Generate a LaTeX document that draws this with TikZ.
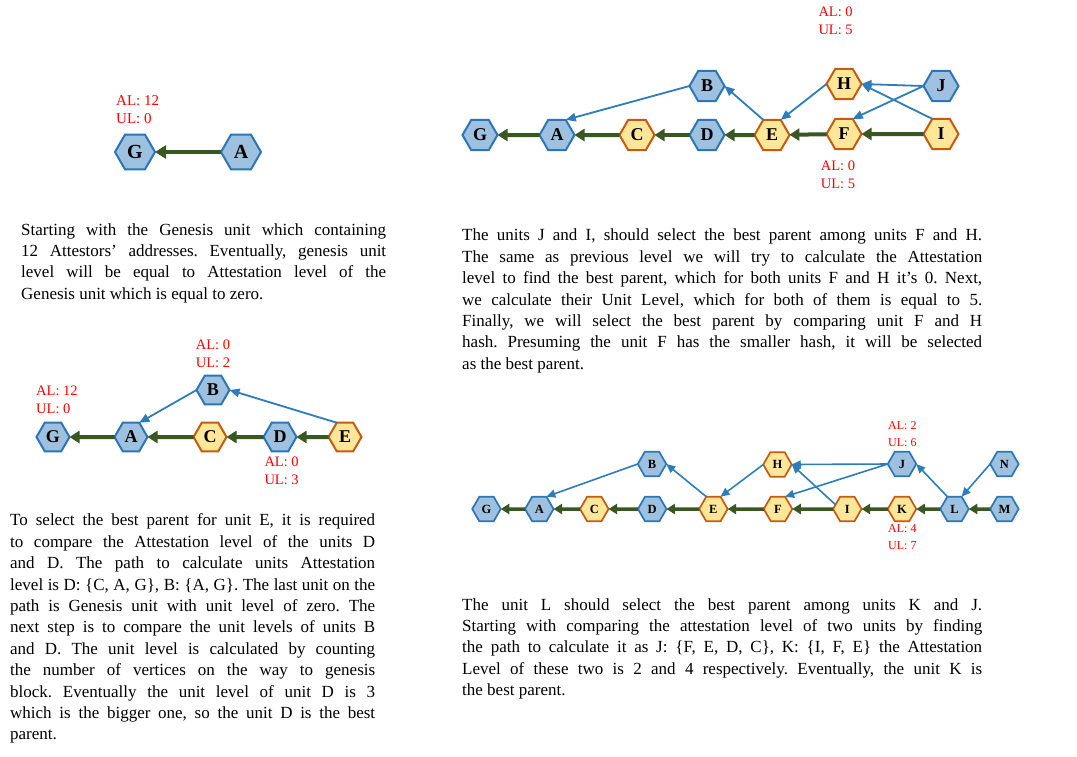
\documentclass[tikz,border=0pt]{standalone}
\usepackage{fontspec}
\setmainfont{Liberation Serif}
\usetikzlibrary{shapes.geometric,arrows.meta}
\definecolor{hexblue}{RGB}{157,193,222}
\definecolor{hexblueb}{RGB}{46,117,182}
\definecolor{hexorange}{RGB}{255,230,153}
\definecolor{hexorangeb}{RGB}{197,90,17}
\definecolor{garrow}{RGB}{56,87,35}
\definecolor{barrow}{RGB}{46,125,185}
\newcommand{\jline}[2]{\makebox[#1][s]{\spaceskip=0pt\xspaceskip=0pt\frenchspacing #2}\\}
\tikzset{
  hex/.style={regular polygon, regular polygon sides=6, inner sep=0pt, outer sep=0pt, line width=2pt},
  bh/.style={hex, draw=hexblueb, fill=hexblue},
  oh/.style={hex, draw=hexorangeb, fill=hexorange},
  sa/.style={minimum size=40pt, font=\fontsize{20}{24}\selectfont\bfseries},
  sb/.style={minimum size=35pt, font=\fontsize{18}{22}\selectfont\bfseries},
  sc/.style={minimum size=33pt, font=\fontsize{18}{22}\selectfont\bfseries},
  sd/.style={minimum size=28.5pt, line width=1.7pt, font=\fontsize{12.5}{15}\selectfont\bfseries},
  garA/.style={draw=garrow, line width=4.3pt, -{Triangle[length=11pt,width=13pt]}},
  garB/.style={draw=garrow, line width=4pt, -{Triangle[length=10pt,width=12pt]}},
  garC/.style={draw=garrow, line width=3.5pt, -{Triangle[length=8.5pt,width=10pt]}},
  bar/.style={draw=barrow, line width=1.8pt, -{Triangle[length=10pt,width=8.5pt]}},
  barS/.style={draw=barrow, line width=1.6pt, -{Triangle[length=9pt,width=8pt]}},
  lbl/.style={text=red, inner sep=0pt, anchor=base west, font=\fontsize{14.5}{17}\selectfont},
  lblS/.style={text=red, inner sep=0pt, anchor=base west, font=\fontsize{12}{14}\selectfont},
  para/.style={inner sep=0pt, anchor=north west, align=flush left, font=\fontsize{17}{21.4}\selectfont\frenchspacing},
}
\begin{document}
\begin{tikzpicture}[x=1pt,y=-1pt]
\useasboundingbox[fill=white] (0,0) rectangle (1077,756);

% ---------- Panel 1 (top left) ----------
\node[bh,sa] (G1) at (135,152) {G};
\node[bh,sa] (A1) at (241,152) {A};
\draw[garA] (A1) -- (G1);
\node[lbl,font=\fontsize{15}{17}\selectfont] (al1) at (116,105) {AL: 12};
\node[lbl,font=\fontsize{15}{17}\selectfont] (ul1) at (116,123.3) {UL: 0};
\node[para,text width=365pt] (t1) at (21,220) {\strut\jline{365pt}{Starting with the Genesis unit which containing}\jline{365pt}{12 Attestors’ addresses. Eventually, genesis unit}\jline{365pt}{level will be equal to Attestation level of the}Genesis unit which is equal to zero.};

% ---------- Panel 2 (top right) ----------
\node[bh,sb] (G2) at (480,135) {G};
\node[bh,sb] (A2) at (557,135) {A};
\node[oh,sb] (C2) at (637,135) {C};
\node[bh,sb] (D2) at (707,135) {D};
\node[oh,sb] (E2) at (772,135) {E};
\node[oh,sb] (F2) at (844,134) {F};
\node[oh,sb] (I2) at (941,134) {I};
\node[bh,sb] (B2) at (707,86) {B};
\node[oh,sb] (H2) at (844,84) {H};
\node[bh,sb] (J2) at (941,86) {J};
\draw[garB] (A2) -- (G2);
\draw[garB] (C2) -- (A2);
\draw[garB] (D2) -- (C2);
\draw[garB] (E2) -- (D2);
\draw[garB] (F2) -- (E2);
\draw[garB] (I2) -- (F2);
\draw[bar] (B2.180) -- (A2.60);
\draw[bar] (E2.120) -- (B2.0);
\draw[bar] (H2.180) -- (E2.60);
\draw[bar] (J2.180) -- (H2.0);
\draw[bar] (I2.120) -- (H2.0);
\draw[bar] (J2.180) -- (F2.60);
\node[lbl] (al2a) at (818.3,16) {AL: 0};
\node[lbl] (ul2a) at (818.3,34.3) {UL: 5};
\node[lbl] (al2b) at (820.7,170) {AL: 0};
\node[lbl] (ul2b) at (820.7,188.3) {UL: 5};
\node[para,text width=520pt] (t2) at (462,225.7) {\strut\jline{520pt}{The units J and I, should select the best parent among units F and H.}\jline{520pt}{The same as previous level we will try to calculate the Attestation}\jline{520pt}{level to find the best parent, which for both units F and H it’s 0. Next,}\jline{520pt}{we calculate their Unit Level, which for both of them is equal to 5.}\jline{520pt}{Finally, we will select the best parent by comparing unit F and H}\jline{520pt}{hash. Presuming the unit F has the smaller hash, it will be selected}as the best parent.};

% ---------- Panel 3 (middle left) ----------
\node[bh,sc] (G3) at (53,437) {G};
\node[bh,sc] (A3) at (131,437) {A};
\node[oh,sc] (C3) at (210,437) {C};
\node[bh,sc] (D3) at (280,437) {D};
\node[oh,sc] (E3) at (345,437) {E};
\node[bh,sc] (B3) at (213,390) {B};
\draw[garB] (A3) -- (G3);
\draw[garB] (C3) -- (A3);
\draw[garB] (D3) -- (C3);
\draw[garB] (E3) -- (D3);
\draw[bar] (B3.180) -- (A3.60);
\draw[bar] (E3.120) -- (B3.0);
\node[lbl] (al3a) at (36,395) {AL: 12};
\node[lbl] (ul3a) at (36,413.3) {UL: 0};
\node[lbl] (al3b) at (195.7,349.3) {AL: 0};
\node[lbl] (ul3b) at (195.7,367.7) {UL: 2};
\node[lbl] (al3c) at (264.3,466) {AL: 0};
\node[lbl] (ul3c) at (264.3,484) {UL: 3};
\node[para,text width=365pt] (t3) at (10,510.7) {\strut\jline{365pt}{To select the best parent for unit E, it is required}\jline{365pt}{to compare the Attestation level of the units D}\jline{365pt}{and D. The path to calculate units Attestation}\jline{365pt}{level is D: \{C, A, G\}, B: \{A, G\}. The last unit on the}\jline{365pt}{path is Genesis unit with unit level of zero. The}\jline{365pt}{next step is to compare the unit levels of units B}\jline{365pt}{and D. The unit level is calculated by counting}\jline{365pt}{the number of vertices on the way to genesis}\jline{365pt}{block. Eventually the unit level of unit D is 3}\jline{365pt}{which is the bigger one, so the unit D is the best}parent.};

% ---------- Panel 4 (bottom right) ----------
\node[bh,sd] (G4) at (486.5,509) {G};
\node[bh,sd] (A4) at (539.3,509) {A};
\node[oh,sd] (C4) at (594.3,509) {C};
\node[bh,sd] (D4) at (652.2,509) {D};
\node[oh,sd] (E4) at (713.4,509) {E};
\node[oh,sd] (F4) at (778,509) {F};
\node[oh,sd] (I4) at (847.3,509) {I};
\node[oh,sd] (K4) at (902,509) {K};
\node[bh,sd] (L4) at (954.5,509) {L};
\node[bh,sd] (M4) at (1004.4,509) {M};
\node[bh,sd] (B4) at (652,464) {B};
\node[oh,sd] (H4) at (777.5,464.5) {H};
\node[bh,sd] (J4) at (902,464) {J};
\node[bh,sd] (N4) at (1004.4,464) {N};
\draw[garC] (A4) -- (G4);
\draw[garC] (C4) -- (A4);
\draw[garC] (D4) -- (C4);
\draw[garC] (E4) -- (D4);
\draw[garC] (F4) -- (E4);
\draw[garC] (I4) -- (F4);
\draw[garC] (K4) -- (I4);
\draw[garC] (L4) -- (K4);
\draw[garC] (M4) -- (L4);
\draw[barS] (B4.180) -- (A4.60);
\draw[barS] (E4.120) -- (B4.0);
\draw[barS] (H4.180) -- (E4.60);
\draw[barS] (J4.180) -- (H4.0);
\draw[barS] (I4.160) -- (H4.0);
\draw[barS] (J4.180) -- (F4.60);
\draw[barS] (L4.120) -- (J4.0);
\draw[barS] (N4.180) -- (L4.60);
\node[lblS] (al4a) at (888,429.3) {AL: 2};
\node[lblS] (ul4a) at (888,446) {UL: 6};
\node[lblS] (al4b) at (888,532.7) {AL: 4};
\node[lblS] (ul4b) at (888,549.3) {UL: 7};
\node[para,text width=520pt] (t4) at (462,595) {\strut\jline{520pt}{The unit L should select the best parent among units K and J.}\jline{520pt}{Starting with comparing the attestation level of two units by finding}\jline{520pt}{the path to calculate it as J: \{F, E, D, C\}, K: \{I, F, E\} the Attestation}\jline{520pt}{Level of these two is 2 and 4 respectively. Eventually, the unit K is}the best parent.};
\end{tikzpicture}
\end{document}
